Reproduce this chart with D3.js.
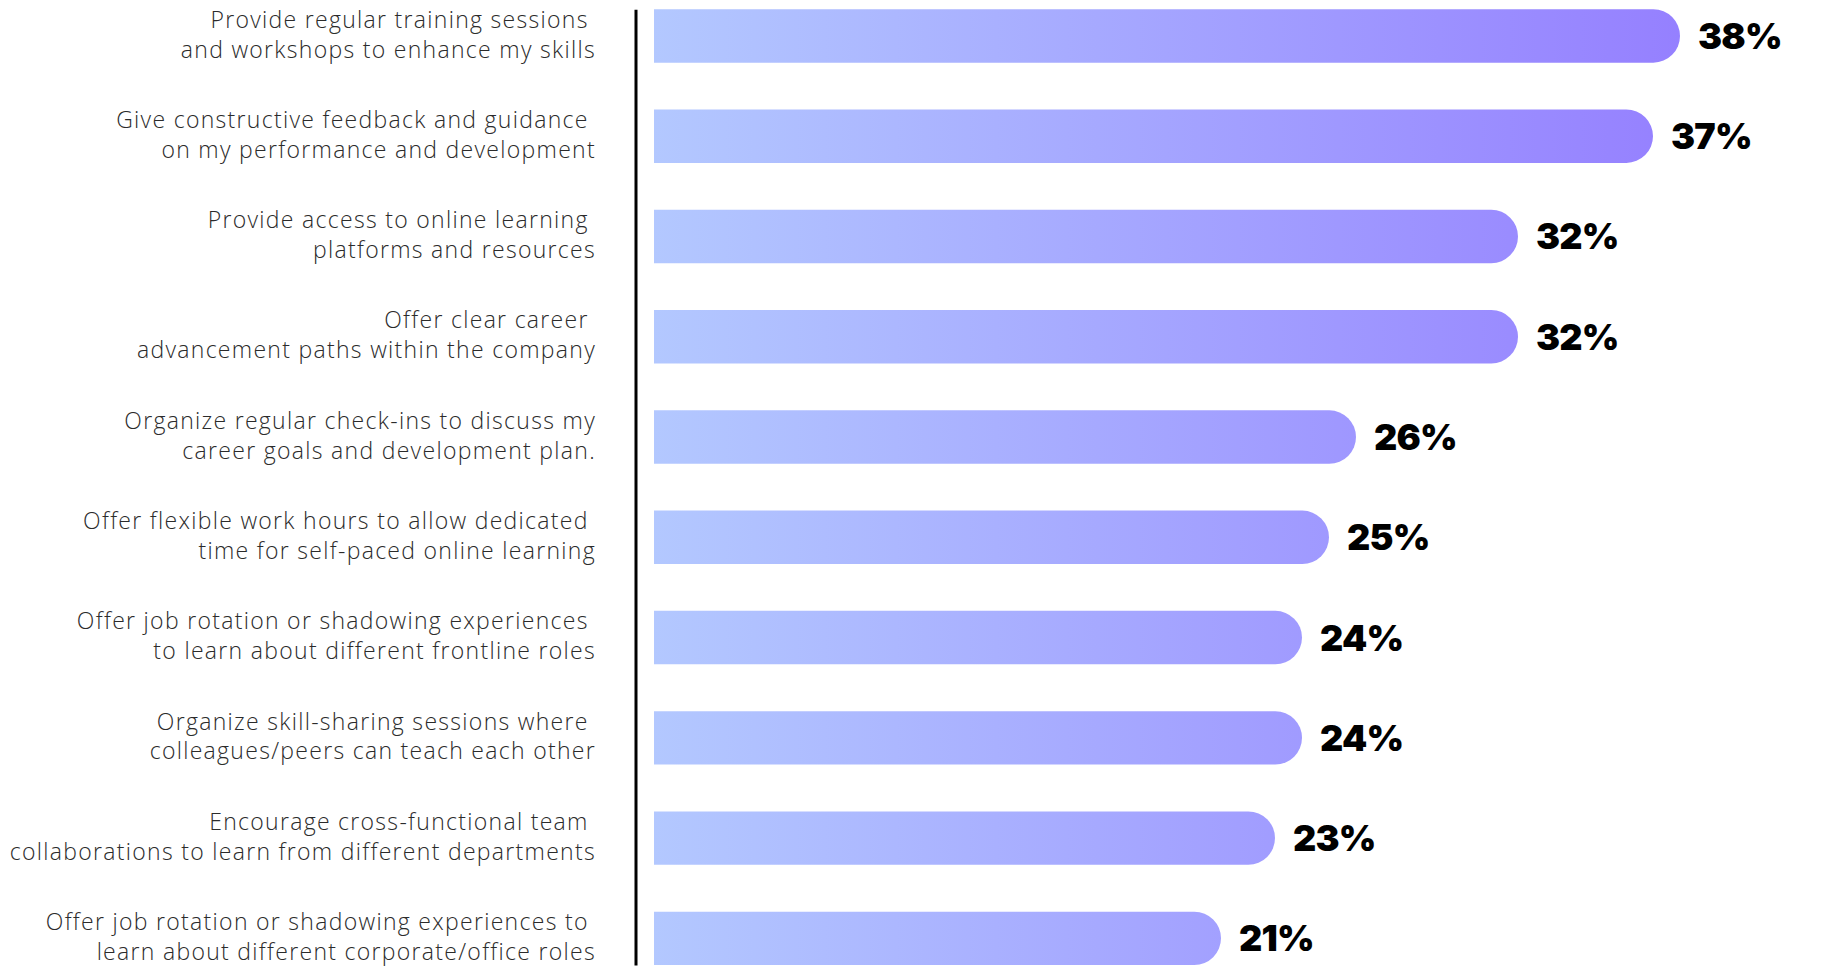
<!DOCTYPE html>
<html>
<head>
<meta charset="utf-8">
<script src="https://cdn.jsdelivr.net/npm/d3@7"></script>
<style>
  html, body { margin: 0; padding: 0; background: #ffffff; }
  svg { display: block; }
  .cat { font-family: "Open Sans", "Lato", sans-serif; font-weight: 300; font-size: 23px; letter-spacing: 1.3px; fill: #2b2b2b; white-space: pre; }
  .val { font-family: "Inter", "Lato", sans-serif; font-weight: 900; font-size: 36px; fill: #000; letter-spacing: -0.8px; }
</style>
</head>
<body>
<svg id="chart" width="1834" height="967"></svg>
<script>
// Survey answers: what employers could do to support development
const labelLine1 = [
  "Provide regular training sessions ",
  "Give constructive feedback and guidance ",
  "Provide access to online learning ",
  "Offer clear career ",
  "Organize regular check-ins to discuss my",
  "Offer flexible work hours to allow dedicated ",
  "Offer job rotation or shadowing experiences ",
  "Organize skill-sharing sessions where ",
  "Encourage cross-functional team ",
  "Offer job rotation or shadowing experiences to "
];
const labelLine2 = [
  "and workshops to enhance my skills",
  "on my performance and development",
  "platforms and resources",
  "advancement paths within the company",
  "career goals and development plan.",
  "time for self-paced online learning",
  "to learn about different frontline roles",
  "colleagues/peers can teach each other",
  "collaborations to learn from different departments",
  "learn about different corporate/office roles"
];
const shares = [38, 37, 32, 32, 26, 25, 24, 24, 23, 21];

const svg = d3.select("#chart");
const ids = d3.range(shares.length);

const axisX = 635.5;
const labelRight = 596;
const x = d3.scaleLinear().domain([0, 40]).range([654, 654 + 1080]);
const y = d3.scaleBand().domain(ids).range([9.3, 965]).paddingInner(0.468).paddingOuter(0);
const bh = y.bandwidth();

// horizontal gradient shared by all bars, light blue to violet
const defs = svg.append("defs");
const grad = defs.append("linearGradient")
  .attr("id", "barGrad")
  .attr("gradientUnits", "userSpaceOnUse")
  .attr("x1", x(0)).attr("x2", x(38)).attr("y1", 0).attr("y2", 0);
grad.append("stop").attr("offset", "0%").attr("stop-color", "#b3c8ff");
grad.append("stop").attr("offset", "100%").attr("stop-color", "#9580ff");

// bars: square left edge, fully rounded right end
function barPath(v, i) {
  const x0 = x(0), x1 = x(v), y0 = y(i), r = bh / 2;
  return `M${x0},${y0}H${x1 - r}A${r},${r} 0 0 1 ${x1 - r},${y0 + bh}H${x0}Z`;
}

svg.append("g").selectAll("path")
  .data(shares)
  .join("path")
  .attr("d", (d, i) => barPath(d, i))
  .attr("fill", "url(#barGrad)");

// value labels
svg.append("g").selectAll("text")
  .data(shares)
  .join("text")
  .attr("class", "val")
  .attr("x", d => x(d) + 18)
  .attr("y", (d, i) => y(i) + bh / 2)
  .attr("dy", "0.36em")
  .text(d => d + "%");

// vertical axis line
const axisG = svg.append("g")
  .attr("transform", `translate(${axisX},0)`)
  .call(d3.axisLeft(y).tickSize(0).tickSizeOuter(0).tickFormat(""));
axisG.select(".domain").attr("stroke", "#000").attr("stroke-width", 3);

// two-line category labels, right aligned
const cats = svg.append("g").selectAll("text")
  .data(ids)
  .join("text")
  .attr("class", "cat")
  .attr("text-anchor", "end")
  .attr("x", labelRight)
  .attr("y", i => y(i) + bh / 2);
cats.append("tspan").attr("x", labelRight).attr("dy", "-0.36em").text(i => labelLine1[i]);
cats.append("tspan").attr("x", labelRight).attr("dy", "1.3em").text(i => labelLine2[i]);
</script>
</body>
</html>
